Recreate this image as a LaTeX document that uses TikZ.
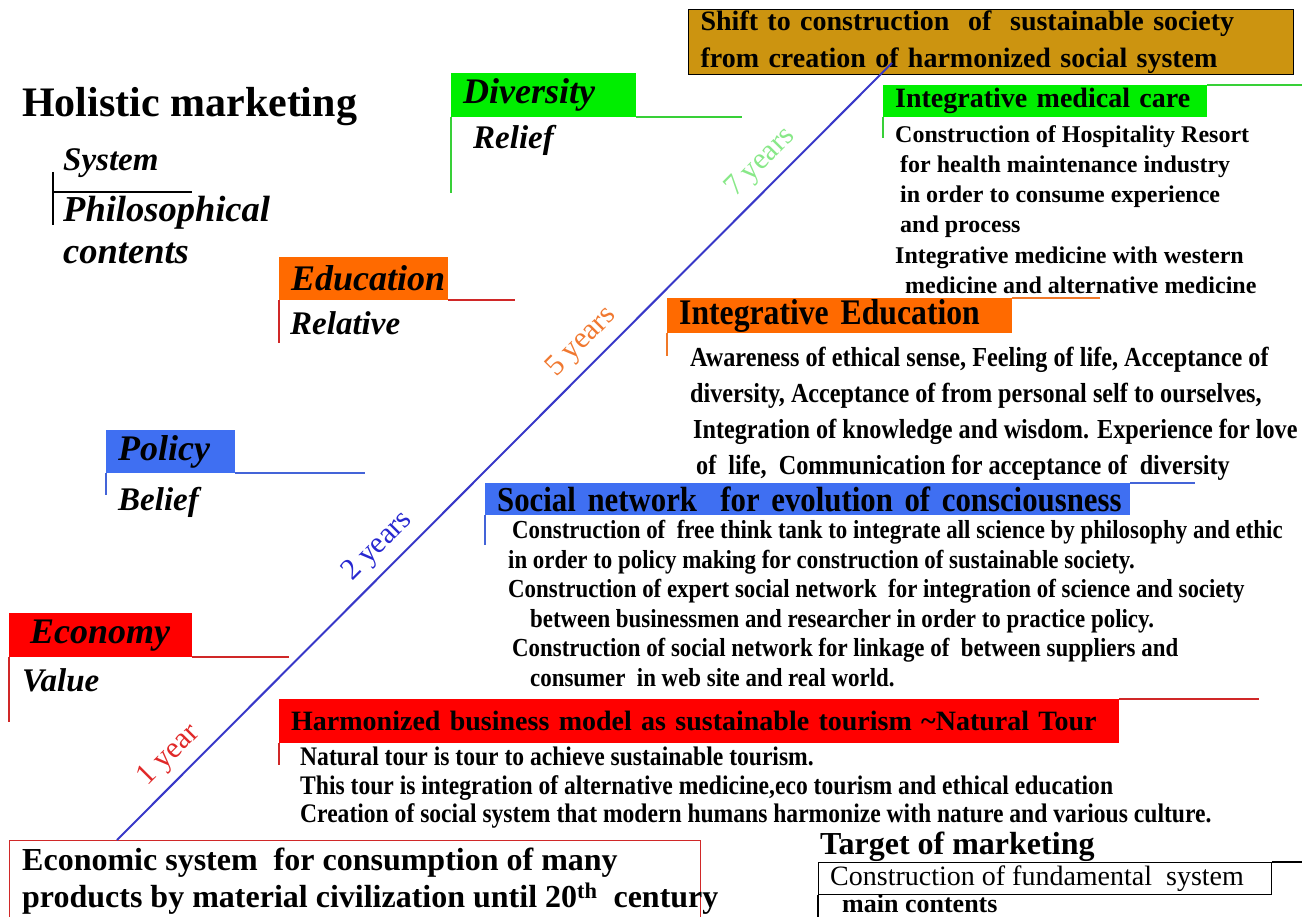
\documentclass[tikz,border=0pt]{standalone}
\usepackage{fontspec}
\setmainfont{Liberation Serif}
\newfontfamily\narrowbf[FakeStretch=0.88]{Liberation Serif Bold}
\usetikzlibrary{positioning}

\definecolor{ecored}{HTML}{FF0000}
\definecolor{ecoline}{HTML}{D02828}
\definecolor{polblue}{HTML}{3F6FF2}
\definecolor{polline}{HTML}{4464D8}
\definecolor{eduorange}{HTML}{FF6A00}
\definecolor{eduline}{HTML}{F07828}
\definecolor{divgreen}{HTML}{00EE00}
\definecolor{divline}{HTML}{38D038}
\definecolor{shiftgold}{HTML}{CC9410}
\definecolor{timeline}{HTML}{3838C8}
\definecolor{yrred}{HTML}{E02828}
\definecolor{yrblue}{HTML}{2828D0}
\definecolor{yrorange}{HTML}{F07830}
\definecolor{yrgreen}{HTML}{88E888}

\newcommand{\fsz}[2]{\fontsize{#1}{#2}\selectfont}

\begin{document}
\begin{tikzpicture}[x=1pt,y=-1pt]
    \tikzstyle{bar} = [anchor=north west,inner xsep=12pt,inner ysep=0pt,align=left]
    \tikzstyle{cat} = [bar,font=\fsz{36}{40}\bfseries\itshape]
    \tikzstyle{sub} = [anchor=west,inner sep=0pt,font=\fsz{33}{36}\bfseries\itshape]
    \tikzstyle{body} = [anchor=north west,inner sep=0pt,align=left]
    \tikzstyle{yr} = [sloped,above=5pt,font=\fsz{30}{32}]
    \useasboundingbox (0,0) rectangle (1302,917);

    % left title
    \node[anchor=base west,inner sep=0pt,font=\fsz{42}{46}\bfseries] (holistic) at (22,117) {Holistic marketing};
    \node[sub] (system) at (63,163) {System};
    \node[body,font=\fsz{36.5}{42}\bfseries\itshape] (philo) at (63,196) {Philosophical\\contents};
    \coordinate (corner) at (53,192);
    \draw[line width=1.2pt] (corner) -- ++(139,0);
    \draw[line width=1.2pt] (corner) ++(0,-20) -- ++(0,53);

    % goal
    \node[bar,draw=black,line width=1.2pt,fill=shiftgold,minimum height=65,text width=581,font=\fsz{28}{37}\bfseries] (shift) at (688,9) {Shift to construction\ \ of\ \ sustainable society\\from creation of harmonized social system};

    % categories on the left
    \node[cat,fill=ecored,text width=159,minimum height=44] (eco) at (9,613) {\hspace*{9pt}Economy};
    \draw[ecoline,line width=2pt] (eco.south east) -- ++(97,0);
    \draw[ecoline,line width=1.5pt] (eco.south west) -- ++(0,65);
    \node[sub] (value) at ([shift={(13,23)}]eco.south west) {Value};

    \node[cat,fill=polblue,text width=105,minimum height=43] (pol) at (106,430) {Policy};
    \draw[polline,line width=2pt] (pol.south east) -- ++(130,0);
    \draw[polline,line width=1.5pt] (pol.south west) -- ++(0,22);
    \node[sub] (belief) at ([shift={(12,29)}]pol.south west) {Belief};

    \node[cat,fill=eduorange,text width=145,minimum height=43] (edu) at (279,257) {Education};
    \draw[ecoline,line width=2pt] (edu.south east) -- ++(67,0);
    \draw[ecoline,line width=1.5pt] (edu.south west) -- ++(0,43);
    \node[sub] (relative) at ([shift={(11,23)}]edu.south west) {Relative};

    \node[cat,fill=divgreen,text width=161,minimum height=44] (div) at (451,73) {Diversity};
    \draw[divline,line width=2pt] (div.south east) -- ++(106,0);
    \draw[divline,line width=1.5pt] (div.south west) -- ++(0,76);
    \node[sub] (relief) at ([shift={(22,23)}]div.south west) {Relief};

    % contents on the right
    \node[bar,fill=divgreen,text width=300,minimum height=32,font=\fsz{28}{30}\bfseries] (med) at (883,85) {Integrative medical care};
    \draw[divline,line width=2pt] (med.north east) -- ++(95,0);
    \draw[divline,line width=1.5pt] (med.south west) -- ++(0,21);
    \node[body,font=\fsz{24}{30.3}\bfseries] (medtxt) at (895,125) {Construction of Hospitality Resort\\
        \hspace*{5pt}for health maintenance industry\\
        \hspace*{5pt}in order to consume experience\\
        \hspace*{5pt}and process\\
        Integrative medicine with western\\
        \hspace*{10pt}medicine and alternative medicine};

    \node[bar,fill=eduorange,text width=321,minimum height=35,font=\narrowbf\fsz{36}{40}] (iedu) at (667,298) {Integrative Education};
    \draw[eduline,line width=2pt] (iedu.north east) -- ++(88,0);
    \draw[eduline,line width=1.5pt] (iedu.south west) -- ++(0,23);
    \node[body,font=\narrowbf\fsz{27.5}{36}] (iedutxt) at (690,347) {Awareness of ethical sense, Feeling of life, Acceptance of\\
        diversity, Acceptance of from personal self to ourselves,\\
        \hspace*{3pt}Integration of knowledge and wisdom. Experience for love\\
        \hspace*{6pt}of\ \ life,\ \ Communication for acceptance of\ \ diversity};

    \node[bar,fill=polblue,text width=621,minimum height=32,font=\narrowbf\fsz{35}{38}] (soc) at (485,483) {\mbox{Social network\ \ for evolution of consciousness}};
    \draw[polline,line width=2pt] (soc.north east) -- ++(65,0);
    \draw[polline,line width=1.5pt] (soc.south west) -- ++(0,30);
    \node[body,font=\narrowbf\fsz{26}{29.6}] (soctxt) at (508,520) {\hspace*{4pt}Construction of\ \ free think tank to integrate all science by philosophy and ethic\\
        in order to policy making for construction of sustainable society.\\
        Construction of expert social network\ \ for integration of science and society\\
        \hspace*{22pt}between businessmen and researcher in order to practice policy.\\
        \hspace*{4pt}Construction of social network for linkage of\ \ between suppliers and\\
        \hspace*{22pt}consumer\ \ in web site and real world.};

    \node[bar,fill=ecored,text width=816,minimum height=44,font=\fsz{28}{32}\bfseries] (harm) at (279,699) {Harmonized business model as sustainable tourism \textasciitilde Natural Tour};
    \draw[ecoline,line width=2pt] (harm.north east) -- ++(140,0);
    \draw[ecoline,line width=1.5pt] (harm.south west) -- ++(0,22);
    \node[body,font=\narrowbf\fsz{26.8}{28.5}] (harmtxt) at (300,747) {Natural tour is tour to achieve sustainable tourism.\\
        This tour is integration of alternative medicine,eco tourism and ethical education\\
        Creation of social system that modern humans harmonize with nature and various culture.};

    % starting point
    \node[anchor=north west,draw=ecoline,minimum width=691,minimum height=100,inner sep=0pt] (econ) at (9,840) {};
    \node[body,font=\fsz{32}{37}\bfseries] (econtxt) at (22,848) {Economic system\ \ for consumption of many\\
        products by material civilization until 20\textsuperscript{th}\ \ century};

    % time line
    \coordinate (t0) at (117,840);
    \coordinate (t1) at (892,63);
    \draw[timeline,line width=2pt] (t0) -- (t1)
        node[yr,pos=0.088,text=yrred] (y1) {1 year}
        node[yr,pos=0.357,text=yrblue] (y2) {2 years}
        node[yr,pos=0.62,text=yrorange] (y5) {5 years}
        node[yr,pos=0.851,text=yrgreen] (y7) {7 years};

    % target
    \node[anchor=base west,inner sep=0pt,font=\fsz{32}{36}\bfseries] (target) at (820,854) {Target of marketing};
    \node[anchor=north west,draw,line width=1.2pt,minimum width=453,minimum height=32,inner sep=0pt] (found) at (818,862) {};
    \draw[line width=1.2pt] (found.north east) -- ++(31,0);
    \draw[line width=1.2pt] (found.south west) -- ++(0,25);
    \node[anchor=west,inner sep=0pt,font=\fsz{28}{30}] (foundtxt) at (830,879) {Construction of fundamental\ \ system};
    \node[anchor=west,inner sep=0pt,font=\fsz{26}{28}\bfseries] (maintxt) at (842,904) {main contents};
\end{tikzpicture}
\end{document}
